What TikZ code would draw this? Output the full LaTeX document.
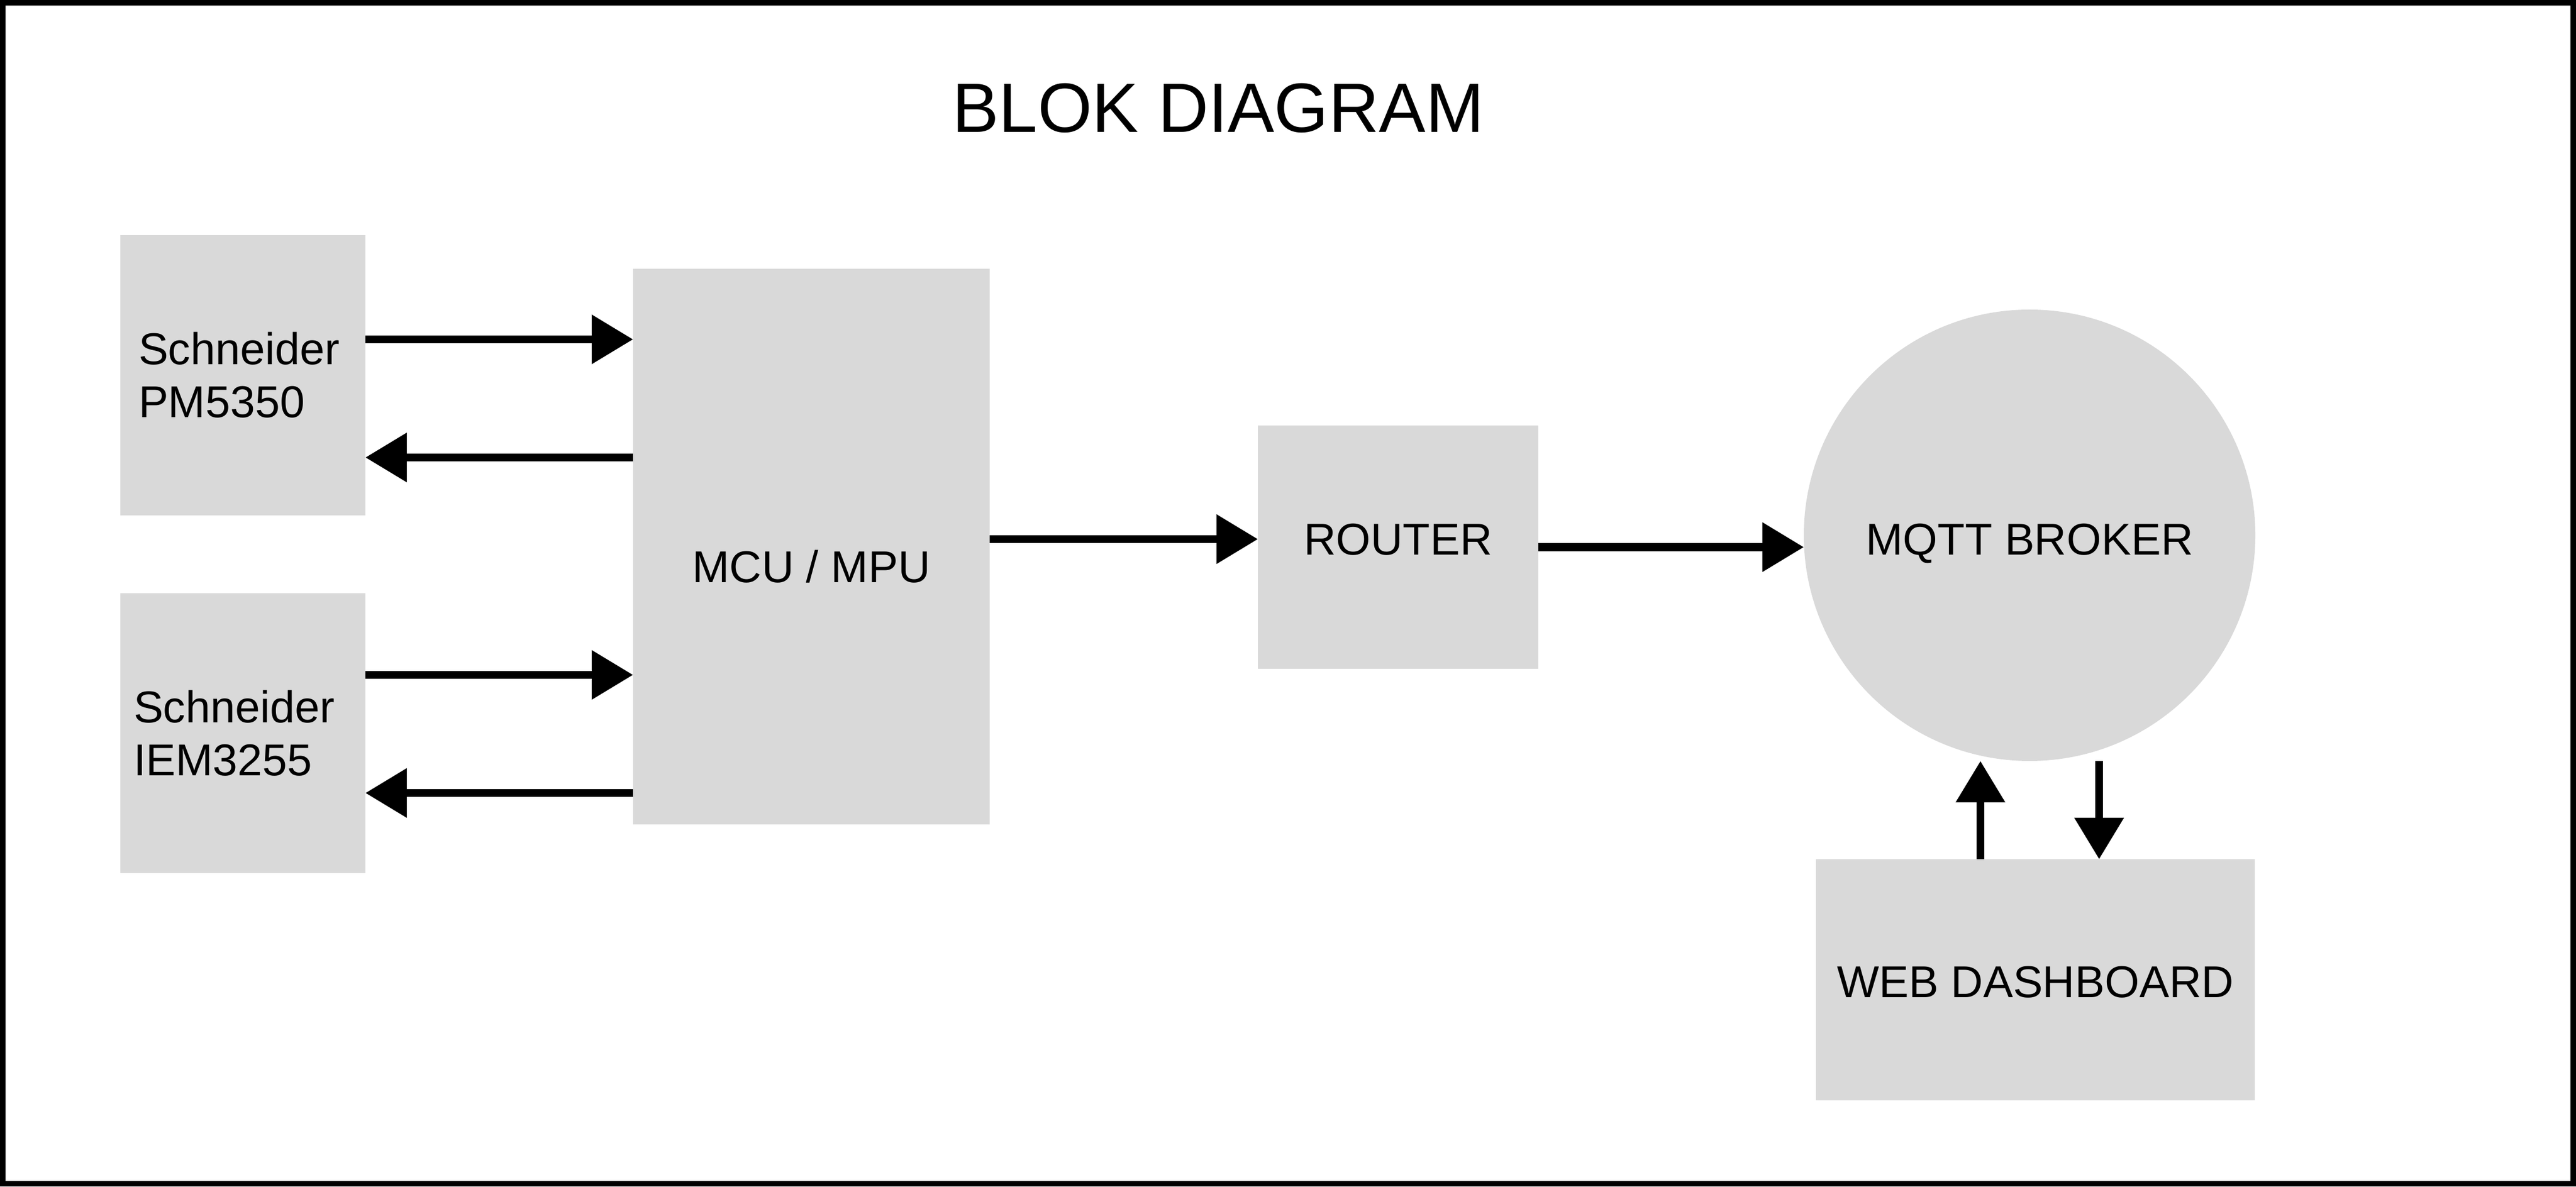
\documentclass[tikz,border=0pt]{standalone}
\usepackage{fontspec}
\setmainfont{Liberation Sans}
\usepackage{tikz}
\usetikzlibrary{arrows.meta,calc}
\usepackage{xcolor}
\definecolor{boxgray}{HTML}{D9D9D9}
\tikzstyle{block}=[fill=boxgray, inner sep=0pt, outer sep=0pt]
\tikzstyle{boxtext}=[inner sep=0pt, font=\fontsize{23}{27.3}\selectfont]
\tikzstyle{heading}=[anchor=base, inner sep=0pt, font=\fontsize{36}{43}\selectfont]
\tikzstyle{flow}=[line width=0.145cm, -{Triangle[length=0.75cm,width=0.86cm]}]

\begin{document}
\begin{tikzpicture}
	\useasboundingbox (0,0) rectangle (46.67,21.5);
	\fill[white] (0,0) rectangle (46.67,21.5);
	\draw[line width=0.1cm] (0.05,0.05) rectangle (46.62,21.45);
	\node[heading] (title) at (22.07,19.10) {BLOK DIAGRAM};
	\node[block, minimum width=4.44cm, minimum height=5.08cm] (pm) at (4.40,14.70) {};
	\node[block, minimum width=4.44cm, minimum height=5.07cm] (iem) at (4.40,8.215) {};
	\node[block, minimum width=6.46cm, minimum height=10.07cm] (mcu) at (14.70,11.595) {};
	\node[block, minimum width=5.08cm, minimum height=4.41cm] (router) at (25.33,11.585) {};
	\node[block, circle, minimum size=8.18cm] (mqtt) at (36.77,11.80) {};
	\node[block, minimum width=7.95cm, minimum height=4.37cm] (web) at (36.875,3.745) {};
	\node[boxtext, align=left] at ([xshift=-0.07cm]pm.center) {Schneider\\PM5350};
	\node[boxtext, align=left] at ([xshift=-0.16cm]iem.center) {Schneider\\IEM3255};
	\node[boxtext, anchor=base] at ([yshift=-0.655cm]mcu.center) {MCU / MPU};
	\node[boxtext, anchor=base] at ([yshift=-0.145cm]router.center) {ROUTER};
	\node[boxtext, anchor=base] at ([yshift=-0.36cm]mqtt.center) {MQTT BROKER};
	\node[boxtext, anchor=base] at ([yshift=-0.315cm]web.center) {WEB DASHBOARD};
	\coordinate (p1) at ([yshift=0.65cm]pm.east);
	\coordinate (p2) at ([yshift=-1.49cm]pm.east);
	\coordinate (i1) at ([yshift=1.055cm]iem.east);
	\coordinate (i2) at ([yshift=-1.085cm]iem.east);
	\coordinate (r1) at ([yshift=0.145cm]router.west);
	\coordinate (w1) at ([xshift=-0.995cm]web.north);
	\coordinate (w2) at ([xshift=1.155cm]web.north);
	\draw[flow] (p1) -- (p1 -| mcu.west);
	\draw[flow] (p2 -| mcu.west) -- (p2);
	\draw[flow] (i1) -- (i1 -| mcu.west);
	\draw[flow] (i2 -| mcu.west) -- (i2);
	\draw[flow] (r1 -| mcu.east) -- (r1);
	\draw[flow] (router.east) -- (router.east -| mqtt.west);
	\draw[flow] (w1) -- (w1 |- mqtt.south);
	\draw[flow] (w2 |- mqtt.south) -- (w2);
\end{tikzpicture}
\end{document}
